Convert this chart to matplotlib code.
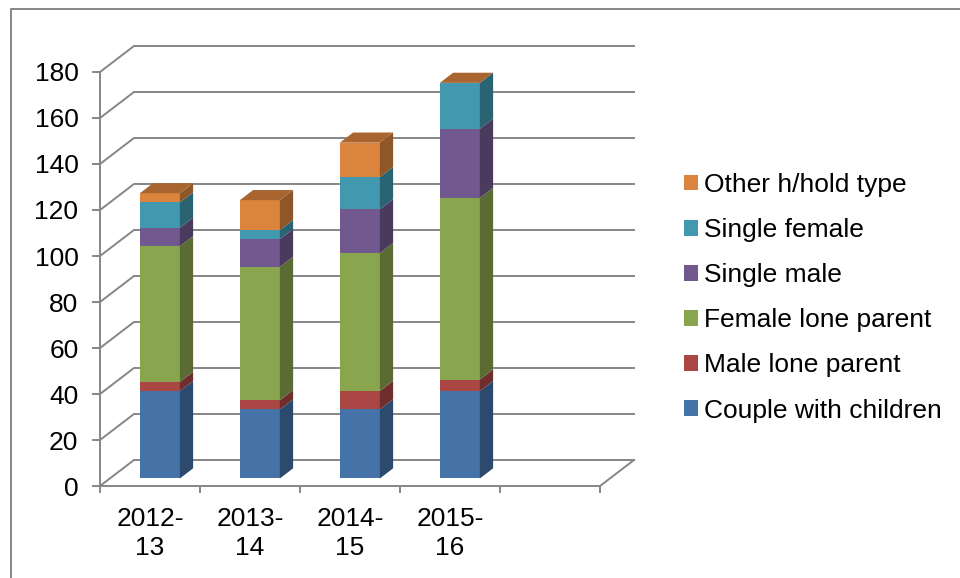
import matplotlib
matplotlib.use("Agg")
import matplotlib.pyplot as plt
from matplotlib.patches import Patch
from matplotlib.lines import Line2D
import numpy as np

plt.rcParams['font.family'] = ['Liberation Sans', 'DejaVu Sans']

categories = ["2012-\n13", "2013-\n14", "2014-\n15", "2015-\n16"]
couple_with_children = [38, 30, 30, 38]
male_lone_parent = [4, 4, 8, 5]
female_lone_parent = [59, 58, 60, 79]
single_male = [8, 12, 19, 30]
single_female = [11, 4, 14, 20]
other_type = [4, 13, 15, 0]
series_names = ["Couple with children", "Male lone parent", "Female lone parent",
                "Single male", "Single female", "Other h/hold type"]
y_ticks = list(range(0, 181, 20))

series = [couple_with_children, male_lone_parent, female_lone_parent,
          single_male, single_female, other_type]
front = ["#4572A7", "#AA4643", "#89A54E", "#71588F", "#4198AF", "#DB843D"]
side = ["#2C4A6E", "#6F2E2C", "#5A6B33", "#4A3A5E", "#2A6372", "#8F5628"]
top_col = "#A8652F"
grid = "#868686"

W, H = 960, 578
fig = plt.figure(figsize=(W / 100, H / 100), dpi=100, facecolor="white")
ax = fig.add_axes([100 / W, 1 - 486 / H, 500 / W, 414 / H])
ax.set_xlim(0, 5)
ax.set_ylim(0, 180)
ax.patch.set_alpha(0)

DX, DY = 34 / 100, 26 / 2.3   # one unit of depth, in data units
def proj(x, y, z):
    return x + z * DX, y + z * DY

lw = 1.4
fs = 19
# walls and floor
for v in y_ticks:
    x0, y0 = proj(0, v, 0)
    x1, y1 = proj(0, v, 1)
    x2, y2 = proj(5, v, 1)
    ax.plot([x0, x1, x2], [y0, y1, y2], color=grid, lw=lw, clip_on=False, zorder=1,
            solid_joinstyle="miter")
x0, y0 = proj(5, 0, 0)
x1, y1 = proj(5, 0, 1)
ax.plot([x0, x1], [y0, y1], color=grid, lw=lw, clip_on=False, zorder=1)

# bars
bw, z0, z1 = 0.4, 0.29, 0.68
def face(pts, color, z):
    xs, ys = zip(*pts)
    ax.fill(xs, ys, facecolor=color, edgecolor="none", clip_on=False, zorder=z)

bottoms = np.zeros(len(categories))
for s, vals in enumerate(series):
    tops = bottoms + np.array(vals, dtype=float)
    for i in range(len(categories)):
        l, r = i + 0.5 - bw / 2, i + 0.5 + bw / 2
        b, t = bottoms[i], tops[i]
        if t > b:
            face([proj(l, b, z0), proj(r, b, z0), proj(r, t, z0), proj(l, t, z0)], front[s], 3)
            face([proj(r, b, z0), proj(r, b, z1), proj(r, t, z1), proj(r, t, z0)], side[s], 3)
        if s == len(series) - 1:
            face([proj(l, t, z0), proj(r, t, z0), proj(r, t, z1), proj(l, t, z1)], top_col, 3)
    bottoms = tops

# axes
for sp in ("top", "right"):
    ax.spines[sp].set_visible(False)
for sp in ("left", "bottom"):
    ax.spines[sp].set_color(grid)
    ax.spines[sp].set_linewidth(lw)
    ax.spines[sp].set_zorder(2)
ax.set_yticks(y_ticks)
ax.set_xticks(range(6))
ax.set_xticklabels([])
ax.set_xticks(np.arange(len(categories)) + 0.5, categories, minor=True)
ax.tick_params(axis="y", length=6, width=lw, color=grid, labelsize=fs, pad=9.5, labelcolor="black")
ax.tick_params(axis="x", which="major", length=5, width=lw, color=grid)
ax.tick_params(axis="x", which="minor", length=0, labelsize=fs, pad=15, labelcolor="black")
for t in ax.get_xticklabels(minor=True):
    t.set_linespacing(1.28)

handles = [Patch(facecolor=c, edgecolor="none") for c in front[::-1]]
fig.legend(handles, series_names[::-1], loc="upper left",
           bbox_to_anchor=(684 / W, 1 - 173 / H), bbox_transform=fig.transFigure,
           frameon=False, fontsize=fs, handlelength=0.53, handleheight=0.53,
           handletextpad=0.23, labelspacing=0.8, borderaxespad=0, borderpad=0)

# chart-area border: only the left and top edges fall inside the picture
fig.add_artist(Line2D([10.5 / W, 10.5 / W, 1], [0, 1 - 8.5 / H, 1 - 8.5 / H],
                      transform=fig.transFigure, color=grid, lw=lw))
fig.savefig("out.png", dpi=100)
